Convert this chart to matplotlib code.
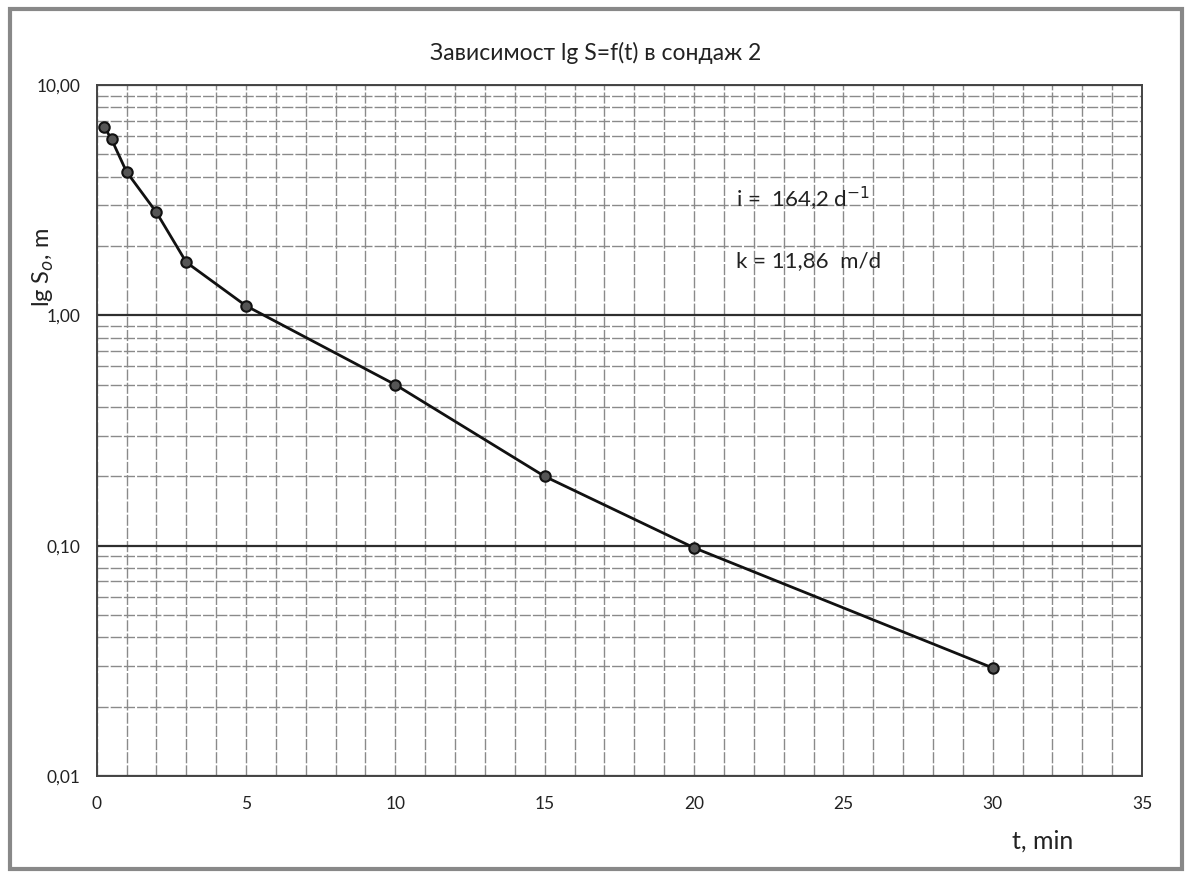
import numpy as np
import matplotlib.pyplot as plt
from matplotlib.ticker import FixedLocator, NullFormatter
from matplotlib.patches import Rectangle

plt.rcParams['font.family'] = ['Lato', 'DejaVu Sans']

# време на наблюдение, min и понижение S0, m
t_min = [0.25, 0.5, 1, 2, 3, 5, 10, 15, 20, 30]
s0_m = [6.6, 5.8, 4.2, 2.8, 1.7, 1.1, 0.5, 0.2, 0.098, 0.0295]

x_ticks = [0, 5, 10, 15, 20, 25, 30, 35]
y_ticks = [0.01, 0.1, 1, 10]
y_tick_labels = ['0,01', '0,10', '1,00', '10,00']

fig = plt.figure(figsize=(11.92, 8.76), dpi=100)
ax = fig.add_axes([0.0811, 0.114, 0.877, 0.789])

ax.set_yscale('log')
ax.set_xlim(0, 35)
ax.set_ylim(0.01, 10)

# решетка: през 1 min по хоризонтала, по-тъмни линии през декада
ax.xaxis.set_major_locator(FixedLocator(x_ticks))
ax.xaxis.set_minor_locator(FixedLocator(np.arange(0, 36, 1)))
ax.yaxis.set_major_locator(FixedLocator(y_ticks))
minor_y = [m * 10.0 ** e for e in range(-2, 1) for m in range(2, 10)]
ax.yaxis.set_minor_locator(FixedLocator(minor_y))
ax.yaxis.set_minor_formatter(NullFormatter())
ax.set_yticklabels(y_tick_labels)

ax.grid(axis='y', which='major', color='#2e2e2e', linewidth=1.6)
ax.grid(axis='y', which='minor', color='#8a8a8a', linewidth=1.0,
        linestyle=(0, (8, 1.5)))
ax.grid(axis='x', which='both', color='#8a8a8a', linewidth=1.0,
        linestyle=(0, (8, 1.5)))
ax.tick_params(which='both', length=0, labelsize=12.5, colors='#222222')
ax.tick_params(axis='x', pad=14)
ax.tick_params(axis='y', pad=12)
for side in ax.spines.values():
    side.set_color('#444444')
    side.set_linewidth(1.4)

ax.plot(t_min, s0_m, color='#111111', linewidth=2, marker='o',
        markersize=7.5, markerfacecolor='#555555', markeredgecolor='#111111',
        markeredgewidth=1.5)

ax.text(21.4, 2.95, 'i =  164,2 d$^{-1}$', fontsize=16, color='#222222')
ax.text(21.4, 1.62, 'k = 11,86  m/d', fontsize=16, color='#222222')

fig.text(0.5, 0.94, 'Зависимост lg S=f(t) в сондаж 2', ha='center',
         va='center', fontsize=16.5, color='#222222')
fig.text(0.036, 0.695, 'lg S$_o$, m', rotation=90, ha='center', va='center',
         fontsize=17, color='#222222')
fig.text(0.875, 0.04, 't, min', ha='center', va='center', fontsize=18,
         color='#222222')

# рамка около диаграмата
fig.patches.append(Rectangle((0.008, 0.008), 0.984, 0.982,
                             transform=fig.transFigure, fill=False,
                             edgecolor='#888888', linewidth=3))

fig.savefig('out.png', dpi=100)
